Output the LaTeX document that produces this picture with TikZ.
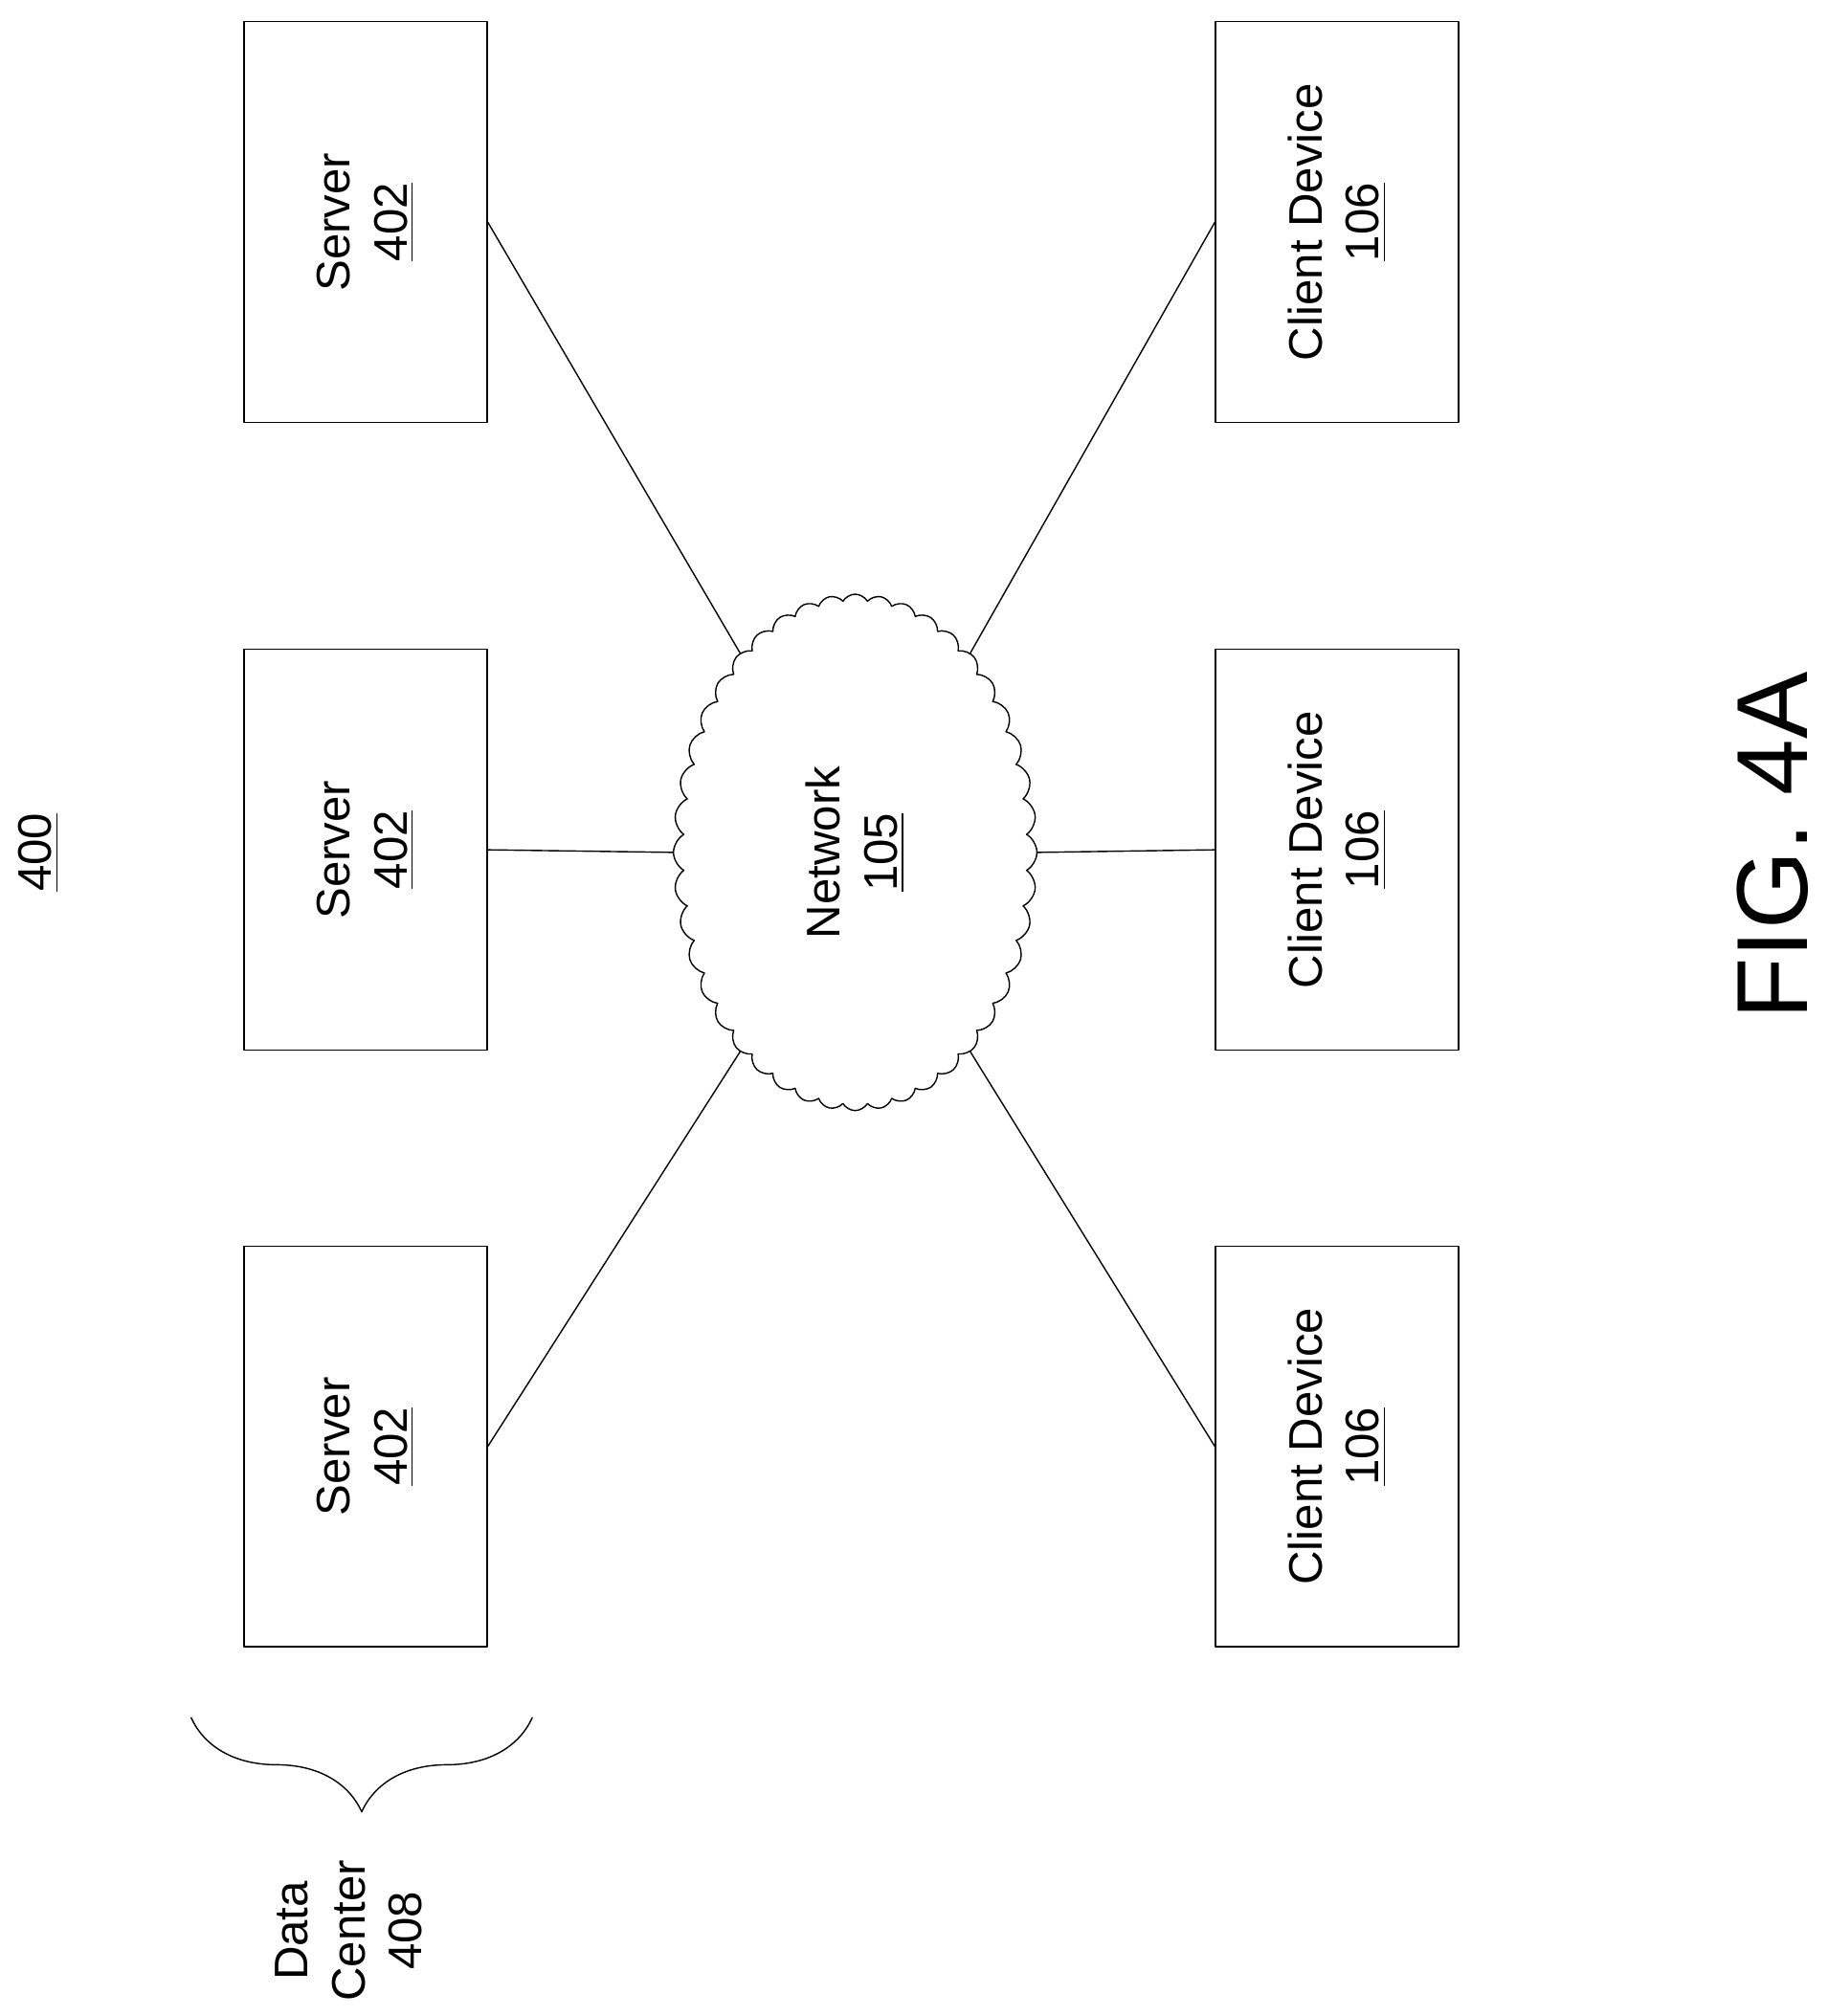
\documentclass[tikz,border=0pt]{standalone}
\usepackage{fontspec}
\setmainfont{Liberation Sans}
\usetikzlibrary{shapes.symbols,decorations.pathreplacing}
\begin{document}
\begin{tikzpicture}[x=0.0135cm,y=-0.0135cm,line cap=round,line join=round,
    box/.style={draw,rotate=90,minimum width=4.19cm,minimum height=2.54cm,align=center,font=\fontsize{14}{17}\selectfont},
    lbl/.style={rotate=90,align=center,font=\fontsize{14}{17}\selectfont}]
      \useasboundingbox (0,0) rectangle (1415,1561);

      % Servers and clients
      \node[box] (s1) at (283,172) {Server\\\underline{402}};
      \node[box] (s2) at (283,658) {Server\\\underline{402}};
      \node[box] (s3) at (283,1120) {Server\\\underline{402}};
      \node[box] (c1) at (1035,172) {Client Device\\\underline{106}};
      \node[box] (c2) at (1035,658) {Client Device\\\underline{106}};
      \node[box] (c3) at (1035,1120) {Client Device\\\underline{106}};

      % Network cloud
      \node[draw,cloud,cloud puffs=44,cloud puff arc=120,minimum width=3.8cm,minimum height=5.4cm] (net) at (662,660) {};
      \node[lbl] at (net) {Network\\\underline{105}};

      % Links
      \draw (s1.south) -- (net.120);
      \draw (s2.south) -- (net.180);
      \draw (s3.south) -- (net.240);
      \draw (c1.north) -- (net.60);
      \draw (c2.north) -- (net.0);
      \draw (c3.north) -- (net.300);

      % Labels
      \node[lbl] (fig) at (30,660) {\underline{400}};
      \node[rotate=90,font=\fontsize{30}{36}\selectfont] (figlbl) at (1372,655) {FIG. 4A};
      \draw[decorate,decoration={brace,amplitude=28pt}] (412,1330) -- (148,1330);
      \node[lbl] (dc) at (270,1495) {Data\\Center\\408};
\end{tikzpicture}
\end{document}
